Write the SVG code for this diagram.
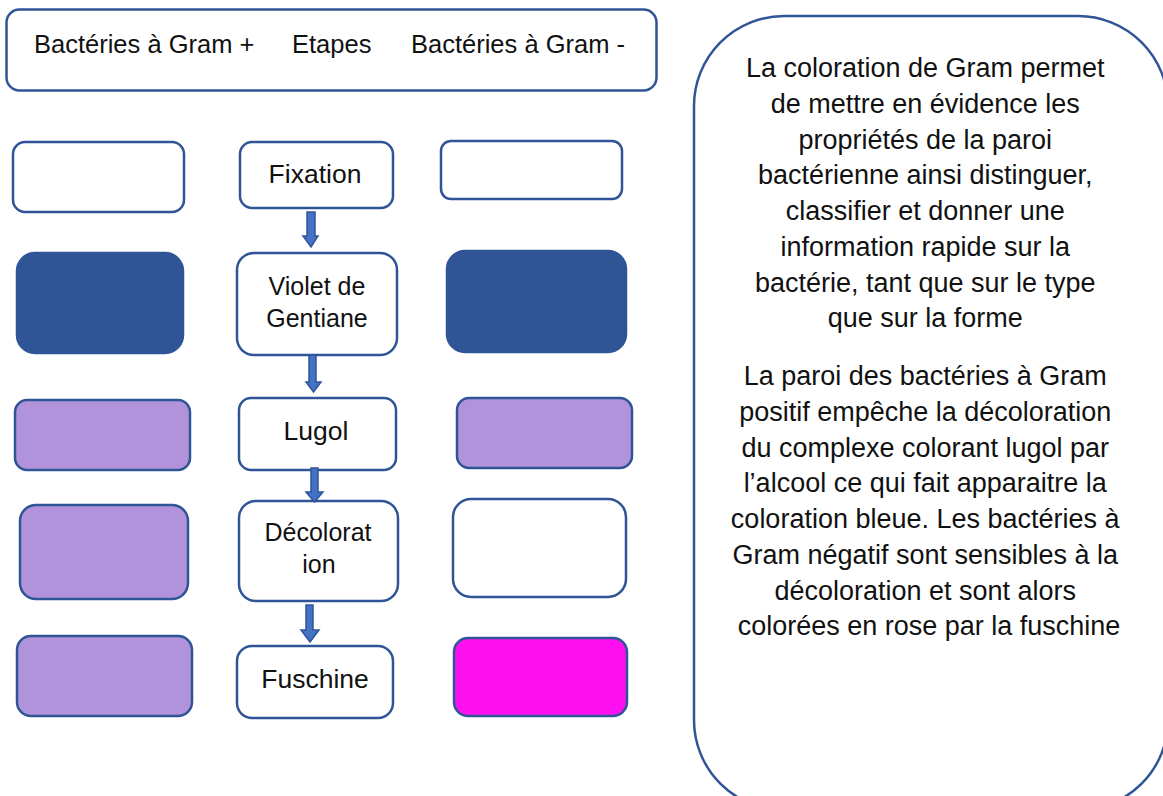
<svg xmlns="http://www.w3.org/2000/svg" width="1163" height="796" viewBox="0 0 1163 796">
<style>
text{font-family:"Liberation Sans",Arial,sans-serif;fill:#111;}
.box{stroke:#2F5597;stroke-width:2.5;}
.w{fill:#fff;}
.d{fill:#2F5597;}
.p{fill:#B193DB;}
.k{fill:#FF10F0;}
.lab{font-size:25px;text-anchor:middle;}
.big{font-size:26.5px;}
.hd{font-size:25.5px;}
.para{font-size:27px;text-anchor:middle;}
.arr{fill:#4472C4;stroke:#2F5597;stroke-width:1.5;}
</style>
<rect width="1163" height="796" fill="#fff"/>
<g id="header">
<rect class="box w" x="6.5" y="9.5" width="650" height="81" rx="13"/>
<text class="hd" x="34" y="53">Bactéries à Gram +</text>
<text class="hd" x="292" y="53">Etapes</text>
<text class="hd" x="411" y="53">Bactéries à Gram -</text>
</g>
<g id="gram-positive">
<rect class="box w" x="13" y="142" width="171" height="70" rx="12"/>
<rect class="box d" x="17" y="253" width="166" height="100" rx="18"/>
<rect class="box p" x="15" y="400" width="175" height="70" rx="12"/>
<rect class="box p" x="20" y="505" width="168" height="94" rx="16"/>
<rect class="box p" x="17" y="636" width="175" height="80" rx="14"/>
</g>
<g id="step-fixation">
<rect class="box w" x="240" y="142" width="153" height="66" rx="12"/>
<text class="lab big" x="315" y="183">Fixation</text>
</g>
<g id="step-violet">
<rect class="box w" x="237" y="253" width="160" height="102" rx="17"/>
<text class="lab" x="317" y="295">Violet de</text>
<text class="lab" x="317" y="327">Gentiane</text>
</g>
<g id="step-lugol">
<rect class="box w" x="239" y="398" width="157" height="72" rx="12"/>
<text class="lab big" x="316" y="440">Lugol</text>
</g>
<g id="step-decoloration">
<rect class="box w" x="239" y="501" width="159" height="100" rx="17"/>
<text class="lab" x="318" y="541">Décolorat</text>
<text class="lab" x="319" y="573">ion</text>
</g>
<g id="step-fuschine">
<rect class="box w" x="237" y="646" width="156" height="72" rx="15"/>
<text class="lab big" x="315" y="688">Fuschine</text>
</g>
<g id="gram-negative">
<rect class="box w" x="441" y="141" width="181" height="58" rx="10"/>
<rect class="box d" x="447" y="251" width="179" height="101" rx="18"/>
<rect class="box p" x="457" y="398" width="175" height="70" rx="12"/>
<rect class="box w" x="453" y="499" width="173" height="98" rx="18"/>
<rect class="box k" x="454" y="638" width="173" height="78" rx="14"/>
</g>
<g id="connectors">
<path class="arr" d="M307,212 H315 V236 H318 L311,247 L303,236 H307 Z"/>
<path class="arr" d="M309,355 H316 V382 H321 L313.5,392 L306,382 H309 Z"/>
<path class="arr" d="M311,468 H318 V492 H323 L314.5,502 L306,492 H311 Z"/>
<path class="arr" d="M306,605 H313 V630 H319 L310,642 L301,630 H306 Z"/>
</g>
<g id="info">
<rect x="694" y="16" width="474" height="794" rx="90" fill="#fff" stroke="#2F5597" stroke-width="2.5"/>
<text class="para" x="929">
<tspan x="929" y="77">La coloration de Gram permet</tspan>
<tspan x="929" y="113">de mettre en évidence les</tspan>
<tspan x="929" y="149">propriétés de la paroi</tspan>
<tspan x="929" y="184">bactérienne ainsi distinguer,</tspan>
<tspan x="929" y="220">classifier et donner une</tspan>
<tspan x="929" y="256">information rapide sur la</tspan>
<tspan x="929" y="292">bactérie, tant que sur le type</tspan>
<tspan x="929" y="327">que sur la forme</tspan>
<tspan x="929" y="385">La paroi des bactéries à Gram</tspan>
<tspan x="929" y="421">positif empêche la décoloration</tspan>
<tspan x="929" y="457">du complexe colorant lugol par</tspan>
<tspan x="929" y="492">l’alcool ce qui fait apparaitre la</tspan>
<tspan x="929" y="528">coloration bleue. Les bactéries à</tspan>
<tspan x="929" y="564">Gram négatif sont sensibles à la</tspan>
<tspan x="929" y="600">décoloration et sont alors</tspan>
<tspan x="929" y="635">colorées en rose par la fuschine</tspan>
</text>
</g>
</svg>
